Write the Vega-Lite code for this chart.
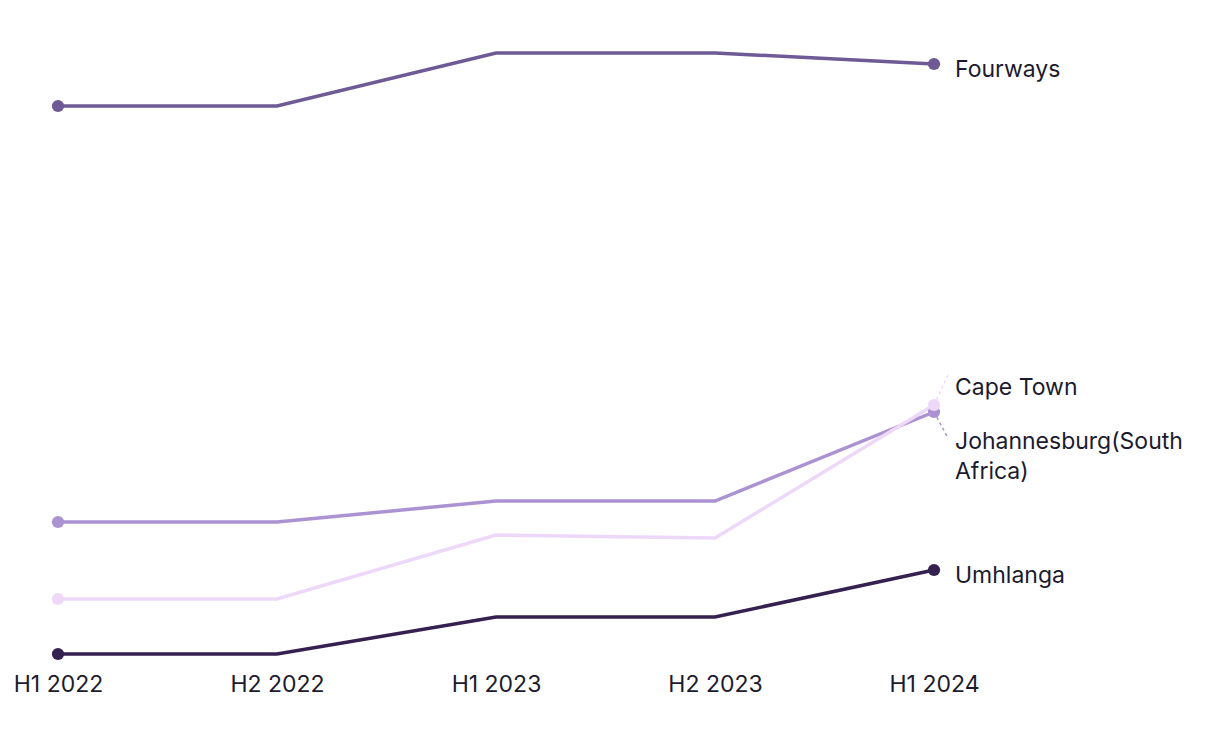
{
  "$schema": "https://vega.github.io/schema/vega-lite/v6.json",
  "width": 876,
  "height": 601,
  "autosize": {"type": "none"},
  "padding": {"left": 58, "top": 53, "right": 286, "bottom": 90},
  "background": "#ffffff",
  "config": {"view": {"stroke": null}, "font": "Inter", "text": {"font": "Inter"}},
  "datasets": {
    "series": [
      {"period": "H1 2022", "city": "Fourways", "value": 594},
      {"period": "H2 2022", "city": "Fourways", "value": 594},
      {"period": "H1 2023", "city": "Fourways", "value": 647},
      {"period": "H2 2023", "city": "Fourways", "value": 647},
      {"period": "H1 2024", "city": "Fourways", "value": 636},
      {"period": "H1 2022", "city": "Johannesburg(South Africa)", "value": 178},
      {"period": "H2 2022", "city": "Johannesburg(South Africa)", "value": 178},
      {"period": "H1 2023", "city": "Johannesburg(South Africa)", "value": 199},
      {"period": "H2 2023", "city": "Johannesburg(South Africa)", "value": 199},
      {"period": "H1 2024", "city": "Johannesburg(South Africa)", "value": 288},
      {"period": "H1 2022", "city": "Cape Town", "value": 101},
      {"period": "H2 2022", "city": "Cape Town", "value": 101},
      {"period": "H1 2023", "city": "Cape Town", "value": 165},
      {"period": "H2 2023", "city": "Cape Town", "value": 162},
      {"period": "H1 2024", "city": "Cape Town", "value": 295},
      {"period": "H1 2022", "city": "Umhlanga", "value": 46},
      {"period": "H2 2022", "city": "Umhlanga", "value": 46},
      {"period": "H1 2023", "city": "Umhlanga", "value": 83},
      {"period": "H2 2023", "city": "Umhlanga", "value": 83},
      {"period": "H1 2024", "city": "Umhlanga", "value": 130}
    ]
  },
  "data": {"name": "series"},
  "encoding": {
    "x": {
      "field": "period", "type": "ordinal",
      "sort": ["H1 2022", "H2 2022", "H1 2023", "H2 2023", "H1 2024"],
      "scale": {"type": "point", "padding": 0},
      "axis": {"title": null, "domain": false, "ticks": false, "grid": false, "labelAngle": 0,
               "labelFont": "Inter", "labelFontSize": 23, "labelColor": "#1c1b2e", "labelPadding": 19}
    },
    "y": {
      "field": "value", "type": "quantitative",
      "scale": {"domain": [46, 647], "zero": false, "nice": false},
      "axis": null
    },
    "color": {
      "field": "city", "type": "nominal",
      "scale": {
        "domain": ["Fourways", "Johannesburg(South Africa)", "Cape Town", "Umhlanga"],
        "range": ["#6e5a94", "#ab92d2", "#eed8fa", "#35214f"]
      },
      "legend": null
    }
  },
  "layer": [
    {
      "data": {"values": [{"wm": "GlobalData"}]},
      "mark": {"type": "text", "fontSize": 46, "fontWeight": "bold", "color": "#f3f3f3", "align": "center", "baseline": "middle", "dx": 114},
      "encoding": {
        "x": {"datum": "H1 2023"},
        "y": {"datum": 327},
        "text": {"field": "wm"},
        "color": null
      }
    },
    {
      "mark": {"type": "line", "strokeWidth": 3.5},
      "encoding": {"detail": {"field": "city"}}
    },
    {
      "transform": [{"filter": "datum.period === 'H1 2022' || datum.period === 'H1 2024'"}],
      "mark": {"type": "circle", "size": 150, "opacity": 1}
    },
    {
      "transform": [{"filter": "datum.period === 'H1 2024' && datum.city === 'Cape Town'"}],
      "mark": {"type": "rule", "strokeDash": [3, 3], "strokeWidth": 1.5, "x2Offset": 14, "y2Offset": -30},
      "encoding": {"x2": {"field": "period"}, "y2": {"field": "value"}}
    },
    {
      "transform": [{"filter": "datum.period === 'H1 2024' && datum.city === 'Johannesburg(South Africa)'"}],
      "mark": {"type": "rule", "strokeDash": [3, 3], "strokeWidth": 1.5, "x2Offset": 14, "y2Offset": 26},
      "encoding": {"x2": {"field": "period"}, "y2": {"field": "value"}}
    },
    {
      "transform": [{"filter": "datum.period === 'H1 2024' && (datum.city === 'Fourways' || datum.city === 'Umhlanga')"}],
      "mark": {"type": "text", "align": "left", "baseline": "middle", "dx": 21, "dy": 6, "fontSize": 23, "color": "#1c1b2e"},
      "encoding": {"text": {"field": "city"}, "color": null}
    },
    {
      "transform": [{"filter": "datum.period === 'H1 2024' && datum.city === 'Cape Town'"}],
      "mark": {"type": "text", "align": "left", "baseline": "middle", "dx": 21, "dy": -17, "fontSize": 23, "color": "#1c1b2e"},
      "encoding": {"text": {"field": "city"}, "color": null}
    },
    {
      "transform": [{"filter": "datum.period === 'H1 2024' && datum.city === 'Johannesburg(South Africa)'"}],
      "mark": {"type": "text", "align": "left", "baseline": "middle", "dx": 21, "dy": 30, "fontSize": 23, "lineHeight": 30, "color": "#1c1b2e"},
      "encoding": {"text": {"value": ["Johannesburg(South", "Africa)"]}, "color": null}
    }
  ]
}
